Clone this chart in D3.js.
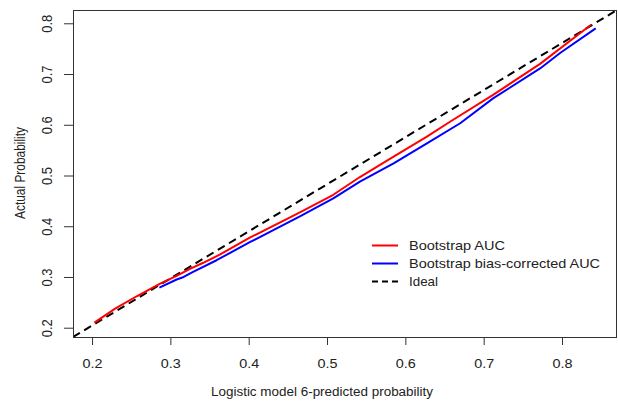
<!DOCTYPE html>
<html>
<head>
<meta charset="utf-8">
<script src="https://cdn.jsdelivr.net/npm/d3@7"></script>
<style>
  body { margin: 0; background: #fff; }
  text { font-family: "Liberation Sans", Arial, sans-serif; fill: #222; }
</style>
</head>
<body>
<svg id="chart" width="618" height="402"></svg>
<script>
// ---- data ----
const redX  = [0.203, 0.230, 0.257, 0.287, 0.308, 0.325, 0.342, 0.363, 0.402, 0.466, 0.508, 0.542, 0.585, 0.627, 0.657, 0.712, 0.772, 0.837];
const redY  = [0.210, 0.238, 0.262, 0.287, 0.302, 0.316, 0.328, 0.344, 0.378, 0.428, 0.462, 0.497, 0.537, 0.576, 0.606, 0.659, 0.720, 0.797];
const blueX = [0.286, 0.308, 0.317, 0.329, 0.359, 0.402, 0.466, 0.508, 0.542, 0.585, 0.627, 0.670, 0.712, 0.772, 0.798, 0.843];
const blueY = [0.279, 0.295, 0.300, 0.310, 0.333, 0.369, 0.420, 0.455, 0.488, 0.524, 0.563, 0.603, 0.652, 0.711, 0.742, 0.790];
const idealX = [0.1757, 0.8702];
const idealY = [0.1817, 0.8262];
const xTicks = [0.2, 0.3, 0.4, 0.5, 0.6, 0.7, 0.8];
const yTicks = [0.2, 0.3, 0.4, 0.5, 0.6, 0.7, 0.8];
const seriesNames = ["Bootstrap AUC", "Bootstrap bias-corrected AUC", "Ideal"];
const xTitle = "Logistic model 6-predicted probability";
const yTitle = "Actual Probability";

const svg = d3.select("#chart");
const L = 73, R = 617, T = 10, B = 337;
const x = d3.scaleLinear().domain([0.1757, 0.8702]).range([L, R]);
const y = d3.scaleLinear().domain([0.1817, 0.8262]).range([B, T]);
const FONT = "'Liberation Sans', Arial, sans-serif";

svg.append("clipPath").attr("id", "clip")
  .append("rect").attr("x", L).attr("y", T).attr("width", R - L).attr("height", B - T);

const line = d3.line().x(d => x(d[0])).y(d => y(d[1]));
const g = svg.append("g").attr("clip-path", "url(#clip)");

g.append("path").datum(d3.zip(idealX, idealY))
  .attr("d", line).attr("fill", "none").attr("stroke", "#000")
  .attr("stroke-width", 2).attr("stroke-dasharray", "8,5");
g.append("path").datum(d3.zip(blueX, blueY))
  .attr("d", line).attr("fill", "none").attr("stroke", "#0000ff")
  .attr("stroke-width", 2).attr("stroke-linejoin", "round");
g.append("path").datum(d3.zip(redX, redY))
  .attr("d", line).attr("fill", "none").attr("stroke", "#ff0000")
  .attr("stroke-width", 2).attr("stroke-linejoin", "round");

// box
svg.append("rect").attr("x", L + 0.5).attr("y", T + 0.5)
  .attr("width", R - L - 1).attr("height", B - T)
  .attr("fill", "none").attr("stroke", "#333").attr("stroke-width", 1);

// x axis
const xAxis = d3.axisBottom(x).tickValues(xTicks).tickFormat(d3.format(".1f"))
  .tickSize(7).tickPadding(14);
const xg = svg.append("g").attr("transform", `translate(0,${B + 1})`).call(xAxis);
xg.select(".domain").remove();
xg.selectAll(".tick line").attr("stroke", "#333");
xg.selectAll(".tick text").style("font-size", "12.5px").attr("fill", "#222")
  .style("font-family", FONT)
  .attr("textLength", 20).attr("lengthAdjust", "spacingAndGlyphs");

// y axis
const yAxis = d3.axisLeft(y).tickValues(yTicks).tickFormat(d3.format(".1f"))
  .tickSize(9).tickPadding(0);
const yg = svg.append("g").attr("transform", `translate(${L},0)`).call(yAxis);
yg.select(".domain").remove();
yg.selectAll(".tick line").attr("stroke", "#333");
yg.selectAll(".tick text")
  .attr("x", null).attr("dy", null)
  .attr("text-anchor", "middle")
  .attr("transform", "translate(-26,0) rotate(-90) scale(1,1.2)")
  .attr("y", 0).attr("dy", "0.35em")
  .style("font-size", "12.5px").attr("fill", "#222")
  .style("font-family", FONT)
  .attr("textLength", 18).attr("lengthAdjust", "spacingAndGlyphs");

// titles
svg.append("text").attr("x", 322).attr("y", 396)
  .attr("text-anchor", "middle").style("font-size", "12.5px")
  .attr("textLength", 222).attr("lengthAdjust", "spacingAndGlyphs")
  .text(xTitle);
svg.append("text").attr("transform", "translate(20,173) rotate(-90) scale(1,1.2)")
  .attr("text-anchor", "middle").attr("dy", "0.35em").style("font-size", "12.5px")
  .attr("textLength", 92).attr("lengthAdjust", "spacingAndGlyphs")
  .text(yTitle);

// legend
const legColors = ["#ff0000", "#0000ff", "#000"];
const legY = [245.5, 263.5, 281.5];
const legW = [96, 191, 29];
seriesNames.forEach((name, i) => {
  svg.append("line").attr("x1", 372).attr("x2", 398)
    .attr("y1", legY[i]).attr("y2", legY[i])
    .attr("stroke", legColors[i]).attr("stroke-width", 2)
    .attr("stroke-dasharray", i === 2 ? "6,4" : null);
  svg.append("text").attr("x", 409).attr("y", legY[i]).attr("dy", "0.35em")
    .style("font-size", "13px")
    .attr("textLength", legW[i]).attr("lengthAdjust", "spacingAndGlyphs")
    .text(name);
});
</script>
</body>
</html>
